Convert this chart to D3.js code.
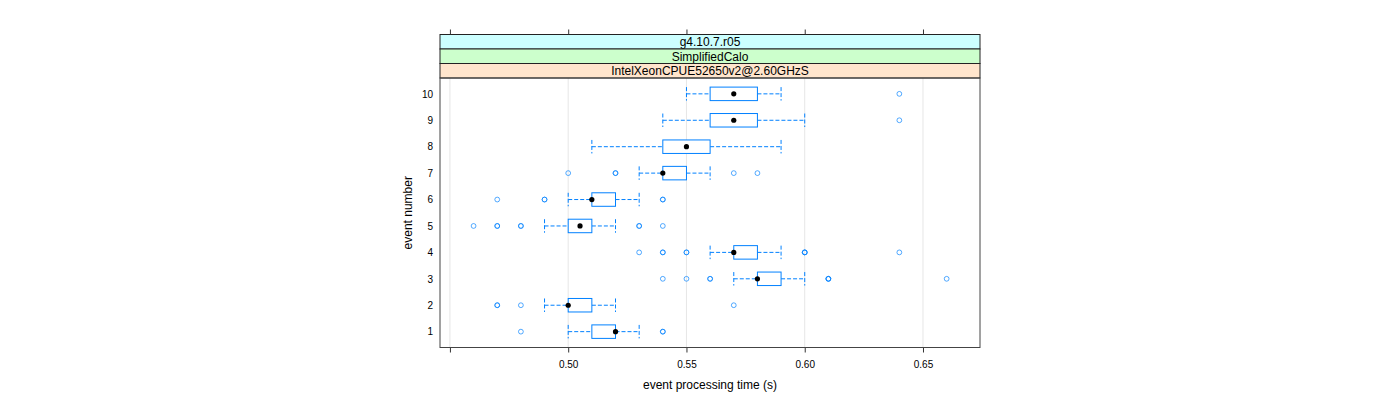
<!DOCTYPE html>
<html><head><meta charset="utf-8">
<script src="https://cdn.jsdelivr.net/npm/d3@7"></script>
<style>body{margin:0;background:#fff;} svg{display:block;font-family:"Liberation Sans",Arial,sans-serif;}</style>
</head><body>
<svg id="chart" width="1400" height="400"></svg>
<script>
const events = [1,2,3,4,5,6,7,8,9,10];
const whiskerLow  = [0.50,0.49,0.57,0.56,0.49,0.50,0.53,0.51,0.54,0.55];
const boxLow      = [0.51,0.50,0.58,0.57,0.50,0.51,0.54,0.54,0.56,0.56];
const medians     = [0.52,0.50,0.58,0.57,0.505,0.51,0.54,0.55,0.57,0.57];
const boxHigh     = [0.52,0.51,0.59,0.58,0.51,0.52,0.55,0.56,0.58,0.58];
const whiskerHigh = [0.53,0.52,0.60,0.59,0.52,0.53,0.56,0.59,0.60,0.59];
const outliers = [
  [0.48,0.54,0.54],
  [0.47,0.47,0.48,0.57],
  [0.54,0.55,0.56,0.56,0.61,0.61,0.61,0.66],
  [0.53,0.54,0.54,0.55,0.55,0.60,0.60,0.60,0.64],
  [0.46,0.47,0.47,0.48,0.48,0.53,0.53,0.54],
  [0.47,0.49,0.49,0.54,0.54],
  [0.50,0.52,0.52,0.57,0.58],
  [],
  [0.64],
  [0.64]
];
const xTicks = [0.45,0.50,0.55,0.60,0.65];
const xTickLabels = ["","0.50","0.55","0.60","0.65"];
const strips = ["g4.10.7.r05","SimplifiedCalo","IntelXeonCPUE52650v2@2.60GHzS"];
const stripColors = ["#ccffff","#ccffcc","#ffe5cc"];

const svg = d3.select("#chart");
const L = 440, R = 980, T = 78, B = 347.5, stripTop = 34.5, stripH = 14.5;
const blue = "#0080ff";

const x = d3.scaleLinear().domain([0.4458, 0.6741]).range([L, R]);
const y = d3.scaleLinear().domain([0.4, 10.6]).range([B, T]);

// gridlines
svg.append("g").selectAll("line").data(xTicks).join("line")
  .attr("x1", d => x(d)).attr("x2", d => x(d))
  .attr("y1", T).attr("y2", B)
  .attr("stroke", "#e6e6e6").attr("stroke-width", 1);

// strips
strips.forEach((s, i) => {
  const yy = stripTop + i * stripH;
  svg.append("rect").attr("x", L).attr("y", yy).attr("width", R - L).attr("height", stripH)
    .attr("fill", stripColors[i]).attr("stroke", "#222").attr("stroke-width", 1);
  svg.append("text").attr("x", (L + R) / 2).attr("y", yy + stripH / 2 + 4.3)
    .attr("text-anchor", "middle").attr("font-size", 12).attr("fill", "#000").text(s);
});

// axes
const xb = svg.append("g").attr("transform", `translate(0,${B})`)
  .call(d3.axisBottom(x).tickValues(xTicks).tickFormat((d, i) => xTickLabels[i]).tickSize(5).tickPadding(8));
const xt = svg.append("g").attr("transform", `translate(0,${stripTop})`)
  .call(d3.axisTop(x).tickValues(xTicks).tickFormat("").tickSize(5));
const yl = svg.append("g").attr("transform", `translate(${L},0)`)
  .call(d3.axisLeft(y).tickValues(events).tickSize(0).tickPadding(7));
[xb, xt, yl].forEach(g => {
  g.select(".domain").remove();
  g.selectAll("line").attr("stroke", "#333");
  g.selectAll("text").attr("font-size", 10).attr("font-family", "Liberation Sans, Arial, sans-serif").attr("fill", "#000");
});

const bh = 13.5;
const g = svg.append("g");
events.forEach((e, i) => {
  const cy = y(e);
  // whiskers
  [[whiskerLow[i], boxLow[i]], [boxHigh[i], whiskerHigh[i]]].forEach(([a, b]) => {
    g.append("line").attr("x1", x(a)).attr("x2", x(b)).attr("y1", cy).attr("y2", cy)
      .attr("stroke", blue).attr("stroke-dasharray", "4,2").attr("stroke-width", 1);
  });
  [whiskerLow[i], whiskerHigh[i]].forEach(v => {
    g.append("line").attr("x1", x(v)).attr("x2", x(v)).attr("y1", cy - bh / 2).attr("y2", cy + bh / 2)
      .attr("stroke", blue).attr("stroke-dasharray", "4,2").attr("stroke-width", 1);
  });
  g.append("rect").attr("x", x(boxLow[i])).attr("y", cy - bh / 2)
    .attr("width", x(boxHigh[i]) - x(boxLow[i])).attr("height", bh)
    .attr("fill", "#fff").attr("stroke", blue).attr("stroke-width", 1);
  g.append("circle").attr("cx", x(medians[i])).attr("cy", cy).attr("r", 2.6).attr("fill", "#000");
  outliers[i].forEach(v => {
    g.append("circle").attr("cx", x(v)).attr("cy", cy).attr("r", 2.4)
      .attr("fill", "none").attr("stroke", blue).attr("stroke-width", 0.9).attr("stroke-opacity", 0.75);
  });
});

// panel border
svg.append("rect").attr("x", L).attr("y", T).attr("width", R - L).attr("height", B - T)
  .attr("fill", "none").attr("stroke", "#444").attr("stroke-width", 1);

svg.append("text").attr("x", (L + R) / 2).attr("y", 389).attr("text-anchor", "middle")
  .attr("font-size", 12).text("event processing time (s)");
svg.append("text").attr("transform", `translate(412,${(T + B) / 2}) rotate(-90)`)
  .attr("text-anchor", "middle").attr("font-size", 12).text("event number");
</script>
</body></html>
